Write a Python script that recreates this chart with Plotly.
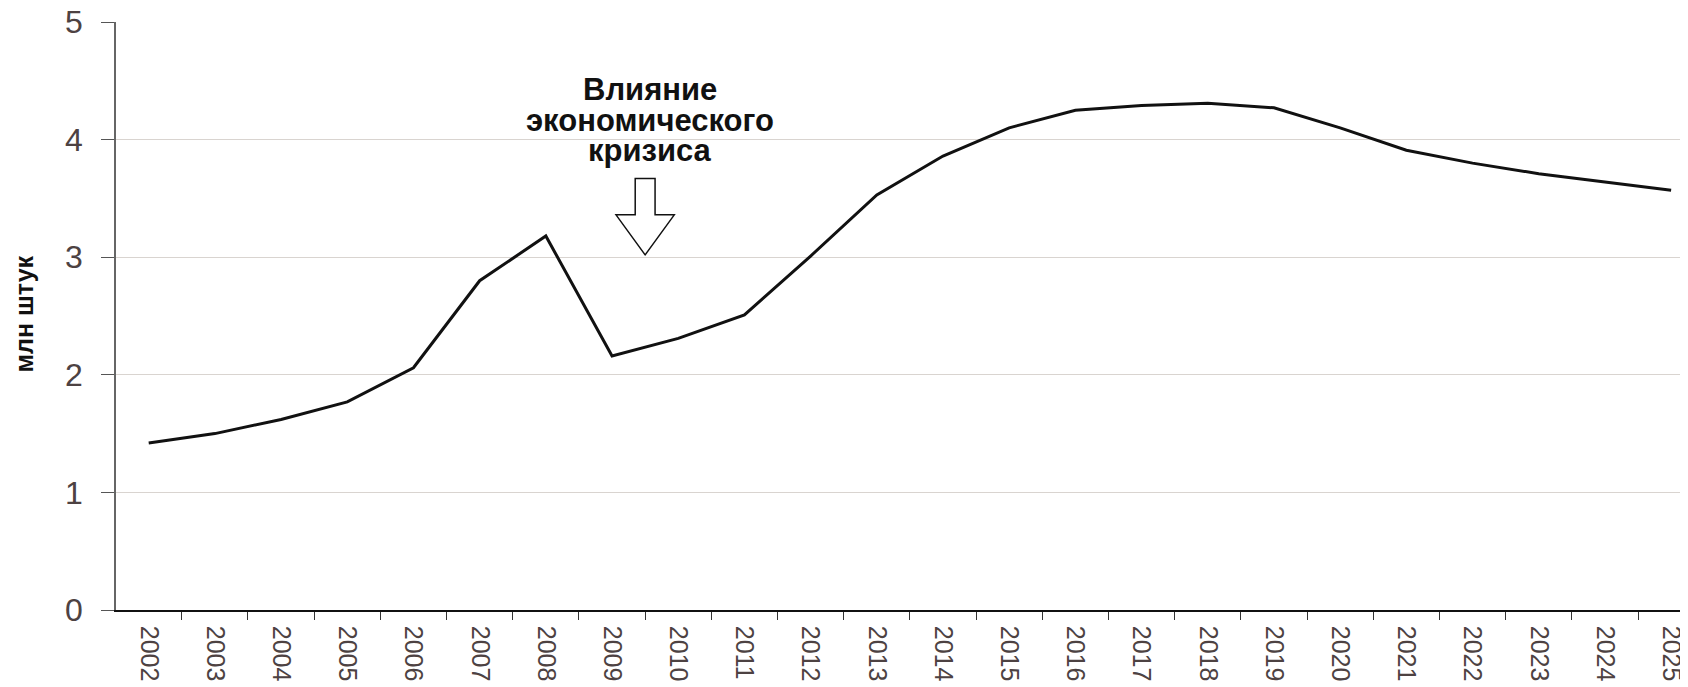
import plotly.graph_objects as go

years = [str(y) for y in range(2002, 2026)]
values = [1.42, 1.50, 1.62, 1.77, 2.06, 2.80, 3.18, 2.16, 2.31, 2.51, 3.01, 3.53,
          3.86, 4.10, 4.25, 4.29, 4.31, 4.27, 4.10, 3.91, 3.80, 3.71, 3.64, 3.57]
y_ticks = [0, 1, 2, 3, 4, 5]
y_title = "млн штук"
note_lines = ["Влияние", "экономического", "кризиса"]

# arrow annotation geometry (category-index units / y-values)
arrow_x = 7.5
arrow_head_half = 0.44
arrow_shaft_half = 0.15
arrow_tip = 3.02
arrow_base = 3.36
arrow_top = 3.67

x_range = [-0.494, 23.255]
tick_col = "#4d4242"

fig = go.Figure()
fig.add_trace(go.Scatter(x=years, y=values, mode="lines",
                         line=dict(color="#111111", width=3), showlegend=False,
                         hoverinfo="skip"))

# hidden numeric axis for arrow shape
fig.add_trace(go.Scatter(x=[0], y=[0], xaxis="x2", mode="markers",
                         marker=dict(opacity=0), showlegend=False, hoverinfo="skip"))

ax = arrow_x
path = (f"M {ax-arrow_shaft_half},{arrow_top} L {ax+arrow_shaft_half},{arrow_top} "
        f"L {ax+arrow_shaft_half},{arrow_base} L {ax+arrow_head_half},{arrow_base} "
        f"L {ax},{arrow_tip} L {ax-arrow_head_half},{arrow_base} "
        f"L {ax-arrow_shaft_half},{arrow_base} Z")
fig.add_shape(type="path", path=path, xref="x2", yref="y",
              line=dict(color="#111111", width=1.5), fillcolor="white")

note_y = [4.43, 4.16, 3.905]
for txt, yy in zip(note_lines, note_y):
    fig.add_annotation(x=7.57, y=yy, xref="x2", yref="y", text=f"<b>{txt}</b>",
                       showarrow=False, xanchor="center", yanchor="middle",
                       font=dict(family="Arial", size=31, color="#111111"))

fig.add_annotation(x=0, y=0.5026, xref="paper", yref="paper", xshift=-92,
                   text=f"<b>{y_title}</b>", textangle=-90, showarrow=False,
                   xanchor="center", yanchor="middle",
                   font=dict(family="Arial", size=25, color="#111111"))

fig.update_layout(
    width=1688, height=687,
    margin=dict(l=108, r=8, t=14, b=85),
    plot_bgcolor="white", paper_bgcolor="white",
    font=dict(family="Arial"),
    xaxis=dict(type="category", range=x_range, tickson="boundaries",
               ticks="outside", ticklen=8, tickcolor="#333333", tickwidth=1,
               showline=True, linecolor="#111111", linewidth=1.5,
               showgrid=False, tickangle=90, ticklabeloverflow="allow",
               automargin=False, ticklabelstandoff=9,
               tickfont=dict(family="Arial", size=25, color=tick_col)),
    xaxis2=dict(range=x_range, overlaying="x", visible=False, showgrid=False),
    yaxis=dict(range=[0, 5], tickvals=y_ticks, ticks="outside", ticklen=13,
               tickcolor="#555555", showline=True, linecolor="#666666", linewidth=1.5,
               showgrid=True, gridcolor="#d9d4d0", gridwidth=1,
               zeroline=False, ticklabelstandoff=12, ticklabeloverflow="allow",
               automargin=False,
               tickfont=dict(family="Arial", size=32, color=tick_col)),
)

fig.write_html("out.html")
